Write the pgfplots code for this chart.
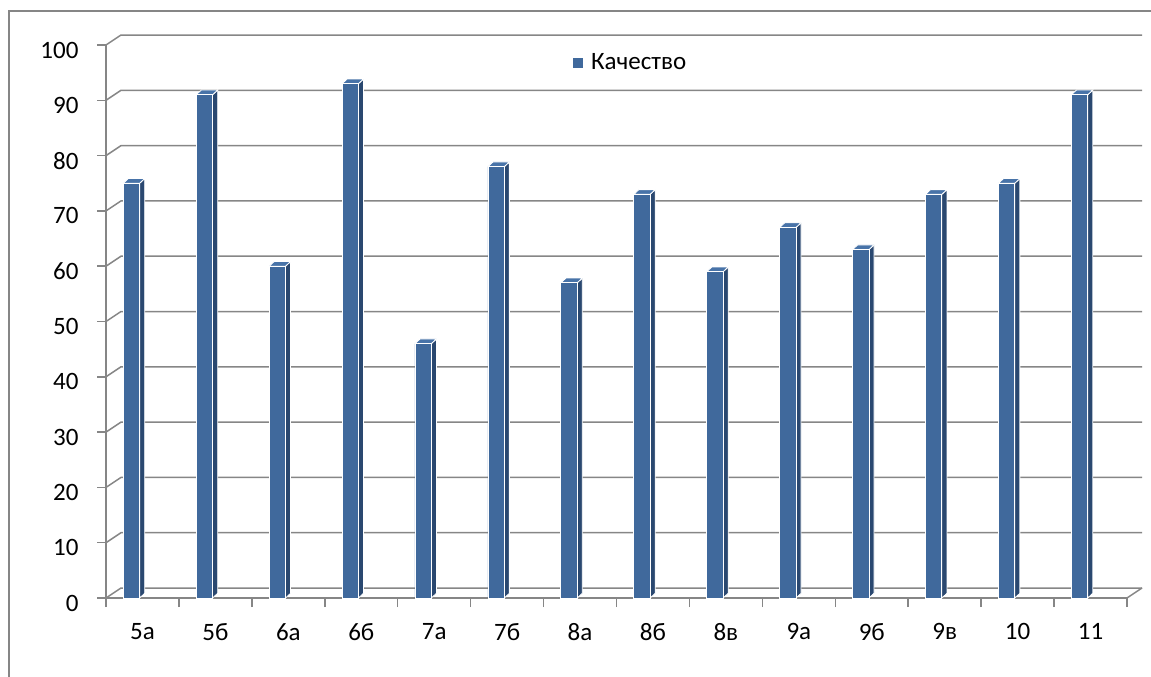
\documentclass[border=0pt]{standalone}
\usepackage{pgfplots}
\pgfplotsset{compat=1.18}
\usepackage{pgfplotstable}
\usepackage{fontspec}
\setmainfont{Carlito}
\definecolor{barfront}{RGB}{64,105,156}
\definecolor{barside}{RGB}{42,72,112}
\definecolor{bartop}{RGB}{72,115,168}
\definecolor{gridgray}{RGB}{134,134,134}
\definecolor{bordergray}{RGB}{134,134,134}
\pgfplotstableread{
i v
0 75
1 91
2 60
3 93
4 46
5 78
6 57
7 73
8 59
9 67
10 63
11 73
12 75
13 91
}\data
\begin{document}
\begin{tikzpicture}
\useasboundingbox (0,0) rectangle (1151pt,-677pt);
\begin{axis}[
  at={(106pt,-598pt)}, anchor=south west,
  scale only axis, width=1021pt, height=553pt,
  xmin=-0.5, xmax=13.5, ymin=0, ymax=100,
  clip=false,
  axis lines*=left,
  axis line style={draw=gridgray, line width=1.5pt},
  xtick={-0.5,0.5,...,13.5},
  x tick label as interval,
  xticklabels={5а,5б,6а,6б,7а,7б,8а,8б,8в,9а,9б,9в,10,11},
  ytick={0,10,...,100},
  tick align=outside,
  major tick length=9pt,
  tick style={draw=gridgray, line width=1.5pt},
  tick label style={font=\fontsize{25}{29}\selectfont},
  /pgf/number format/assume math mode=true,
  yticklabel style={xshift=-15pt, yshift=-5pt},
  xticklabel style={yshift=-13pt},
  legend style={at={(0.514,0.968)}, anchor=center, draw=none, fill=none,
    font=\fontsize{25}{29}\selectfont},
]
% back wall gridlines
\pgfplotsinvokeforeach{0,10,...,100}{%
  \pgfmathsetmacro\yb{#1+1.808}%
  \edef\tmp{\noexpand\addplot[draw=gridgray, line width=1.5pt, forget plot] coordinates {(-0.5,#1) (-0.2943,\yb) (13.7057,\yb)};}\tmp
}
\addplot[draw=gridgray, line width=1.5pt, forget plot] coordinates {(13.5,0) (13.7057,1.808)};
% side and top faces
\pgfplotsinvokeforeach{0,...,13}{%
  \pgfplotstablegetelem{#1}{v}\of\data
  \let\val\pgfplotsretval
  \pgfmathsetmacro\xl{#1-0.263}%
  \pgfmathsetmacro\xr{#1-0.039}%
  \pgfmathsetmacro\xrr{#1-0.039+0.07}%
  \pgfmathsetmacro\xll{#1-0.263+0.07}%
  \pgfmathsetmacro\vt{\val+0.85}%
  \edef\tmp{\noexpand\addplot[fill=barside, draw=white, line width=0.8pt, forget plot] coordinates {(\xr,0) (\xrr,0.85) (\xrr,\vt) (\xr,\val)} --cycle;
  \noexpand\addplot[fill=bartop, draw=white, line width=0.8pt, forget plot] coordinates {(\xl,\val) (\xr,\val) (\xrr,\vt) (\xll,\vt)} --cycle;}\tmp
}
% front faces
\addplot[ybar, bar width=16.4pt, bar shift=-11pt, fill=barfront, draw=white, line width=0.8pt,
  legend image code/.code={\fill[barfront] (0pt,-4.5pt) rectangle (9pt,4.5pt);}]
  table[x=i, y=v]{\data};
\addlegendentry{\hspace{6pt}Качество}
\end{axis}
\draw[bordergray, line width=1.5pt] (9pt,-700pt) -- (9pt,-11pt) -- (1170pt,-11pt);
\end{tikzpicture}
\end{document}
